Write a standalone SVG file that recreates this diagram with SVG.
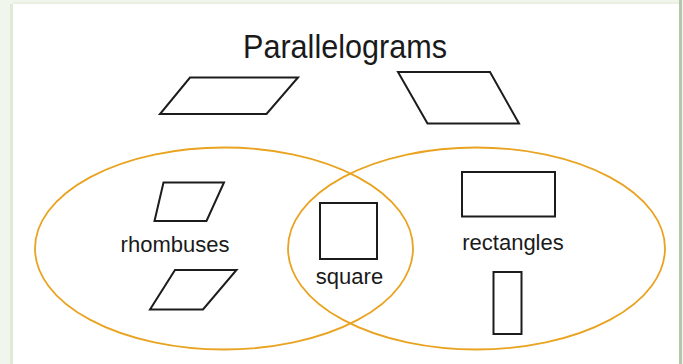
<svg xmlns="http://www.w3.org/2000/svg" width="683" height="364" viewBox="0 0 683 364">
  <style>
    .shape { fill: none; stroke: #1c1c1c; stroke-width: 2; stroke-linejoin: miter; }
    .set { fill: none; stroke: #e9a320; stroke-width: 1.8; }
    .label { font-family: "Liberation Sans", Arial, sans-serif; fill: #1a1a1a; }
  </style>

  <!-- page background and frame -->
  <rect x="0" y="0" width="683" height="364" fill="#f1f6ec"/>
  <rect x="13" y="4" width="666" height="360" fill="#ffffff"/>
  <line x1="11.5" y1="4" x2="11.5" y2="364" stroke="#dfe9d6" stroke-width="3"/>
  <line x1="680.5" y1="0" x2="680.5" y2="364" stroke="#b6c6ad" stroke-width="3"/>
  <line x1="13" y1="3" x2="679" y2="3" stroke="#e6eedf" stroke-width="1.5"/>

  <!-- title -->
  <g id="title">
    <text class="label" x="345" y="58" font-size="33" text-anchor="middle" textLength="204" lengthAdjust="spacingAndGlyphs">Parallelograms</text>
  </g>

  <!-- general parallelograms -->
  <g id="parallelogram-a">
    <polygon class="shape" points="190,77.5 298,77.5 266.5,114 160,114"/>
  </g>
  <g id="parallelogram-b">
    <polygon class="shape" points="398,72 490,72 519,123.5 427.5,123.5"/>
  </g>

  <!-- sets -->
  <g id="connectors">
    <ellipse id="set-rhombuses" class="set" cx="224" cy="248.5" rx="189" ry="101"/>
    <ellipse id="set-rectangles" class="set" cx="476.5" cy="248.5" rx="188.5" ry="101"/>
  </g>

  <!-- rhombuses -->
  <g id="rhombus-a">
    <polygon class="shape" points="163.5,182.5 224,182.5 206.5,221 154.5,221"/>
  </g>
  <g id="rhombus-b">
    <polygon class="shape" points="175,270 236.5,270 203,309.5 150,309.5"/>
  </g>
  <g id="label-rhombuses">
    <text class="label" x="175" y="252" font-size="22" text-anchor="middle">rhombuses</text>
  </g>

  <!-- square -->
  <g id="square">
    <rect class="shape" x="320" y="203" width="57" height="56"/>
    <text class="label" x="349.5" y="284" font-size="22" text-anchor="middle">square</text>
  </g>

  <!-- rectangles -->
  <g id="rectangle-a">
    <rect class="shape" x="462" y="172" width="93" height="44.5"/>
  </g>
  <g id="rectangle-b">
    <rect class="shape" x="493.5" y="272" width="28" height="62"/>
  </g>
  <g id="label-rectangles">
    <text class="label" x="513" y="250" font-size="22" text-anchor="middle">rectangles</text>
  </g>
</svg>
